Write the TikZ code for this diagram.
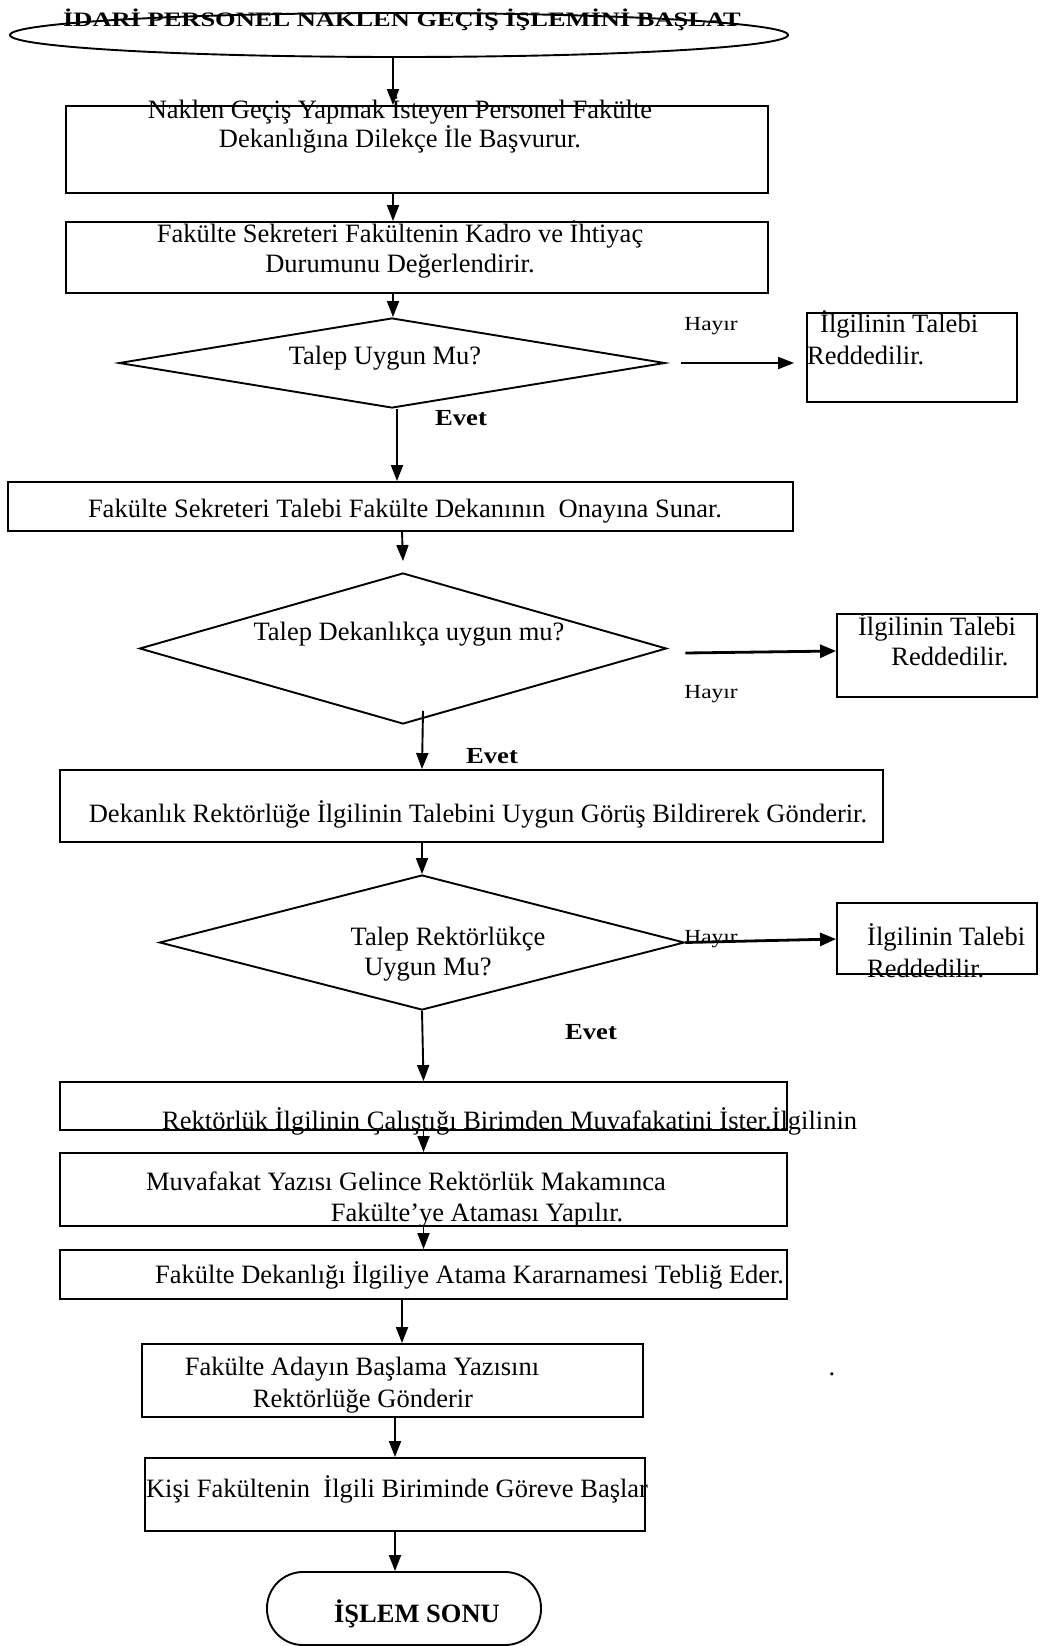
\documentclass[tikz,border=0pt]{standalone}
\usepackage{fontspec}
\setmainfont{Liberation Serif}
\newfontfamily\titlefont[FakeStretch=1.29]{Liberation Serif}
\newfontfamily\evetfont[FakeStretch=1.16]{Liberation Serif}
\newfontfamily\hayirfont[FakeStretch=1.17]{Liberation Serif}
\usetikzlibrary{shapes.geometric,arrows.meta}
\begin{document}
\begin{tikzpicture}[x=1pt,y=-1pt,
  box/.style={draw, line width=1.9pt, inner sep=0, rectangle},
  dia/.style={draw, line width=1.9pt, inner sep=0, shape=diamond},
  txt/.style={inner sep=0, font=\fontsize{26.5}{30}\selectfont},
  btxt/.style={inner sep=0, font=\fontsize{26.5}{30}\selectfont\bfseries},
  ttxt/.style={inner sep=0, font=\titlefont\fontsize{20.5}{24}\selectfont\bfseries},
  etxt/.style={inner sep=0, font=\evetfont\fontsize{23}{27}\selectfont\bfseries},
  stxt/.style={inner sep=0, font=\hayirfont\fontsize{20}{24}\selectfont},
  arr/.style={line width=1.9pt, -{Triangle[length=16pt,width=12pt]}},
  tarr/.style={line width=2.8pt, -{Triangle[length=16pt,width=13pt]}}]
\useasboundingbox (0,0) rectangle (1045,1646);
% shapes
\node[draw, line width=1.9pt, ellipse, inner sep=0, minimum width=778pt, minimum height=44pt] (start) at (399,35) {};
\node[box, minimum width=702pt, minimum height=87pt] (r1) at (417,149.5) {};
\node[box, minimum width=702pt, minimum height=71pt] (r2) at (417,257.5) {};
\node[dia, minimum width=546pt, minimum height=90pt, aspect=6.07] (d1) at (392,363) {};
\node[box, minimum width=210pt, minimum height=89pt] (rj1) at (912,357.5) {};
\node[box, minimum width=785pt, minimum height=49pt] (r3) at (400.5,506.5) {};
\node[dia, minimum width=527pt, minimum height=151pt, aspect=3.49] (d2) at (403,648.5) {};
\node[box, minimum width=200pt, minimum height=83pt] (rj2) at (937,655.5) {};
\node[box, minimum width=823pt, minimum height=72pt] (r4) at (471.5,806) {};
\node[dia, minimum width=525pt, minimum height=135pt, aspect=3.89] (d3) at (422,942.5) {};
\node[box, minimum width=200pt, minimum height=71pt] (rj3) at (937,938.5) {};
\node[box, minimum width=727pt, minimum height=48pt] (r5) at (423.5,1106) {};
\node[box, minimum width=727pt, minimum height=73pt] (r6) at (423.5,1189.5) {};
\node[box, minimum width=727pt, minimum height=49pt] (r7) at (423.5,1274.5) {};
\node[box, minimum width=501pt, minimum height=73pt] (r8) at (392.5,1380.5) {};
\node[box, minimum width=500pt, minimum height=73pt] (r9) at (395,1494.5) {};
\node[draw, line width=1.9pt, rounded corners=36pt, inner sep=0, minimum width=274pt, minimum height=73pt] (endn) at (404,1608.5) {};
% texts
\node[ttxt, anchor=base] (ttl) at (402,27) {İDARİ PERSONEL NAKLEN GEÇİŞ İŞLEMİNİ BAŞLAT};
\node[txt, anchor=base] (t1a) at (400,118) {Naklen Geçiş Yapmak İsteyen Personel Fakülte};
\node[txt, anchor=base] (t1b) at (400,147) {Dekanlığına Dilekçe İle Başvurur.};
\node[txt, anchor=base] (t2a) at (400,242) {Fakülte Sekreteri Fakültenin Kadro ve İhtiyaç};
\node[txt, anchor=base] (t2b) at (400,272) {Durumunu Değerlendirir.};
\node[txt, anchor=base] (td1) at (385,364) {Talep Uygun Mu?};
\node[stxt, anchor=base] (h1) at (711,330) {Hayır};
\node[txt, anchor=base west] (tj1a) at (820,332) {İlgilinin Talebi};
\node[txt, anchor=base west] (tj1b) at (807,364) {Reddedilir.};
\node[etxt, anchor=base] (e1) at (461,425) {Evet};
\node[txt, anchor=base] (t3) at (405,517) {Fakülte Sekreteri Talebi Fakülte Dekanının\ \ Onayına Sunar.};
\node[txt, anchor=base] (td2) at (409,640) {Talep Dekanlıkça uygun mu?};
\node[txt, anchor=base] (tj2a) at (937,635) {İlgilinin Talebi};
\node[txt, anchor=base] (tj2b) at (950,665) {Reddedilir.};
\node[stxt, anchor=base] (h2) at (711,698) {Hayır};
\node[etxt, anchor=base] (e2) at (492,763) {Evet};
\node[txt, anchor=base] (t4) at (478,822) {Dekanlık Rektörlüğe İlgilinin Talebini Uygun Görüş Bildirerek Gönderir.};
\node[txt, anchor=base] (td3a) at (448,945) {Talep Rektörlükçe};
\node[txt, anchor=base] (td3b) at (428,975) {Uygun Mu?};
\node[stxt, anchor=base] (h3) at (711,943) {Hayır};
\node[txt, anchor=base west] (tj3a) at (867,945) {İlgilinin Talebi};
\node[txt, anchor=base west] (tj3b) at (867,977) {Reddedilir.};
\node[etxt, anchor=base] (e3) at (591,1039) {Evet};
\node[txt, anchor=base west] (t5) at (162,1129) {Rektörlük İlgilinin Çalıştığı Birimden Muvafakatini İster.İlgilinin};
\node[txt, anchor=base] (t6a) at (406,1190) {Muvafakat Yazısı Gelince Rektörlük Makamınca};
\node[txt, anchor=base] (t6b) at (477,1221) {Fakülte’ye Ataması Yapılır.};
\node[txt, anchor=base west] (t7) at (155,1283) {Fakülte Dekanlığı İlgiliye Atama Kararnamesi Tebliğ Eder.};
\node[txt, anchor=base] (t8a) at (362,1375) {Fakülte Adayın Başlama Yazısını};
\node[txt, anchor=base] (t8b) at (363,1407) {Rektörlüğe Gönderir};
\node[txt, anchor=base] (dot) at (832,1375) {.};
\node[txt, anchor=base] (t9) at (397,1497) {Kişi Fakültenin\ \ İlgili Biriminde Göreve Başlar};
\node[btxt, anchor=base] (tend) at (417,1622) {İŞLEM SONU};
% connectors
\draw[arr] ([xshift=-6pt]start.south) -- ([xshift=-24pt]r1.north);
\draw[arr] ([xshift=-24pt]r1.south) -- ([xshift=-24pt]r2.north);
\draw[arr] ([xshift=-24pt]r2.south) -- ([xshift=1pt]d1.north);
\draw[arr] ([xshift=15pt]d1.east) -- ([xshift=-12pt,yshift=-5.5pt]rj1.west);
\draw[arr] ([xshift=5pt]d1.south) -- ([xshift=-3.5pt]r3.north);
\draw[arr] ([xshift=1.5pt]r3.south) -- ([yshift=11pt]d2.north);
\draw[tarr] ([xshift=18pt,yshift=-4.5pt]d2.east) -- ([yshift=4.5pt]rj2.west);
\draw[arr] ([xshift=20pt,yshift=14pt]d2.south) -- ([xshift=-49.5pt]r4.north);
\draw[arr] ([xshift=-49.5pt]r4.south) -- (d3.north);
\draw[tarr] (d3.east) -- ([yshift=-0.5pt]rj3.west);
\draw[arr] (d3.south) -- (r5.north);
\draw[arr] (r5.south) -- (r6.north);
\draw[arr] (r6.south) -- (r7.north);
\draw[arr] ([xshift=-21.5pt]r7.south) -- ([xshift=9.5pt]r8.north);
\draw[arr] ([xshift=2.5pt]r8.south) -- (r9.north);
\draw[arr] (r9.south) -- ([xshift=-9pt]endn.north);
\end{tikzpicture}
\end{document}
